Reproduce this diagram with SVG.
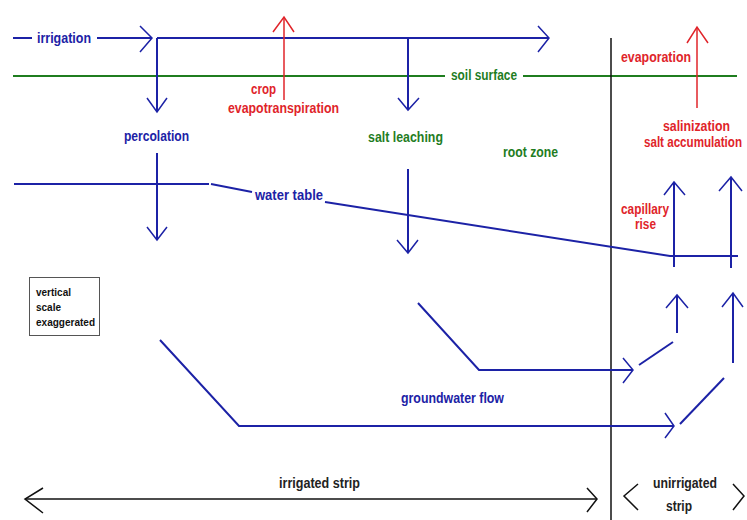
<svg xmlns="http://www.w3.org/2000/svg" width="747" height="520" viewBox="0 0 747 520">
<style>
text{font-family:"Liberation Sans",Arial,sans-serif;font-weight:bold;font-size:14.5px}
.b{fill:#1c22a6}.g{fill:#1f7d1f}.r{fill:#e0242a}.k{fill:#222}
.sm{font-size:11px;fill:#111}
.lb{stroke:#1c22a6;stroke-width:2;fill:none}
.lbt{stroke:#1c22a6;stroke-width:1.5;fill:none}
.lg{stroke:#1f7d1f;stroke-width:2;fill:none}
.lr{stroke:#e0242a;stroke-width:1.5;fill:none}
.lk{stroke:#111;stroke-width:1.5;fill:none}
</style>
<rect width="747" height="520" fill="#fff"/>
<g id="connectors">
<line class="lg" x1="13" y1="76" x2="445" y2="76"/>
<line class="lg" x1="523" y1="76" x2="737" y2="76"/>
<line class="lk" x1="611" y1="38" x2="611" y2="520"/>
<line class="lb" x1="13" y1="38" x2="32" y2="38"/>
<line class="lb" x1="97" y1="38" x2="152" y2="38"/>
<polyline class="lbt" points="140,26 152,38 140,52"/>
<line class="lb" x1="157" y1="38" x2="549" y2="38"/>
<polyline class="lbt" points="538,26 549,38 538,52"/>
<line class="lb" x1="157" y1="38" x2="157" y2="112"/>
<polyline class="lbt" points="147,98 157,112 167,98"/>
<line class="lb" x1="408" y1="38" x2="408" y2="110"/>
<polyline class="lbt" points="398,98 408,110 419,98"/>
<line class="lr" x1="284" y1="100" x2="284" y2="17"/>
<polyline class="lr" points="273,32 284,17 294,32"/>
<line class="lr" x1="697" y1="108" x2="697" y2="27"/>
<polyline class="lr" points="687,43 697,27 708,43"/>
<polyline class="lb" points="14,184 209,184"/>
<polyline class="lb" points="211,184 252,192"/>
<polyline class="lb" points="325,202 670,256 738,256"/>
<line class="lb" x1="157" y1="153" x2="157" y2="240"/>
<polyline class="lbt" points="147,227 157,240 167,227"/>
<line class="lb" x1="408" y1="169" x2="408" y2="253"/>
<polyline class="lbt" points="397,240 408,253 418,240"/>
<line class="lb" x1="674" y1="267" x2="674" y2="182"/>
<polyline class="lbt" points="664,195 674,182 685,195"/>
<line class="lb" x1="731" y1="268" x2="731" y2="177"/>
<polyline class="lbt" points="719,191 731,177 742,191"/>
<line class="lb" x1="677" y1="333" x2="677" y2="295"/>
<polyline class="lbt" points="666,308 677,295 688,308"/>
<line class="lb" x1="733" y1="363" x2="733" y2="293"/>
<polyline class="lbt" points="722,307 733,293 743,307"/>
<polyline class="lb" points="418,303 479,370 633,370"/>
<polyline class="lbt" points="623,358 633,370 623,383"/>
<line class="lb" x1="639" y1="365" x2="673" y2="342"/>
<polyline class="lb" points="160,340 239,426 674,426"/>
<polyline class="lbt" points="665,413 674,426 665,438"/>
<line class="lb" x1="680" y1="424" x2="724" y2="378"/>
<line class="lk" x1="25" y1="499" x2="597" y2="499"/>
<polyline class="lk" points="43,488 25,499 43,513"/>
<polyline class="lk" points="587,488 597,499 587,512"/>
<polyline class="lk" points="638,484 624,496 638,510"/>
<polyline class="lk" points="733,484 744,496 733,510"/>
</g>
<g id="irrigation"><text class="b" x="37" y="43" textLength="54" lengthAdjust="spacingAndGlyphs">irrigation</text></g>
<g id="crop-et"><text class="r" x="251" y="94" textLength="25" lengthAdjust="spacingAndGlyphs">crop</text>
<text class="r" x="228" y="113" textLength="111" lengthAdjust="spacingAndGlyphs">evapotranspiration</text></g>
<g id="soil-surface"><text class="g" x="451" y="80" textLength="66" lengthAdjust="spacingAndGlyphs">soil surface</text></g>
<g id="evaporation"><text class="r" x="621" y="62" textLength="70" lengthAdjust="spacingAndGlyphs">evaporation</text></g>
<g id="salinization"><text class="r" x="663" y="131" textLength="67" lengthAdjust="spacingAndGlyphs">salinization</text>
<text class="r" x="644" y="147" font-size="11.5" textLength="98" lengthAdjust="spacingAndGlyphs" style="font-size:11.5px" transform="translate(644 147) scale(1 1.26) translate(-644 -147)">salt accumulation</text></g>
<g id="percolation"><text class="b" x="124" y="141" textLength="65" lengthAdjust="spacingAndGlyphs">percolation</text></g>
<g id="salt-leaching"><text class="g" x="368" y="142" textLength="75" lengthAdjust="spacingAndGlyphs">salt leaching</text></g>
<g id="root-zone"><text class="g" x="503" y="157" textLength="55" lengthAdjust="spacingAndGlyphs">root zone</text></g>
<g id="water-table"><text class="b" x="255" y="200" textLength="68" lengthAdjust="spacingAndGlyphs">water table</text></g>
<g id="capillary-rise"><text class="r" x="621" y="214" textLength="48" lengthAdjust="spacingAndGlyphs">capillary</text>
<text class="r" x="635" y="229" textLength="21" lengthAdjust="spacingAndGlyphs">rise</text></g>
<g id="scale-note"><rect x="29.5" y="277.5" width="70" height="58" fill="#fff" stroke="#555" stroke-width="1"/>
<text class="sm" x="36" y="296" textLength="35" lengthAdjust="spacingAndGlyphs">vertical</text>
<text class="sm" x="36" y="311" textLength="25" lengthAdjust="spacingAndGlyphs">scale</text>
<text class="sm" x="36" y="326" textLength="59" lengthAdjust="spacingAndGlyphs">exaggerated</text></g>
<g id="groundwater-flow"><text class="b" x="401" y="403" textLength="103" lengthAdjust="spacingAndGlyphs">groundwater flow</text></g>
<g id="irrigated-strip"><text class="k" x="279" y="488" textLength="81" lengthAdjust="spacingAndGlyphs">irrigated strip</text></g>
<g id="unirrigated-strip"><text class="k" x="653" y="488" textLength="64" lengthAdjust="spacingAndGlyphs">unirrigated</text>
<text class="k" x="666" y="511" textLength="26" lengthAdjust="spacingAndGlyphs">strip</text></g>
</svg>
